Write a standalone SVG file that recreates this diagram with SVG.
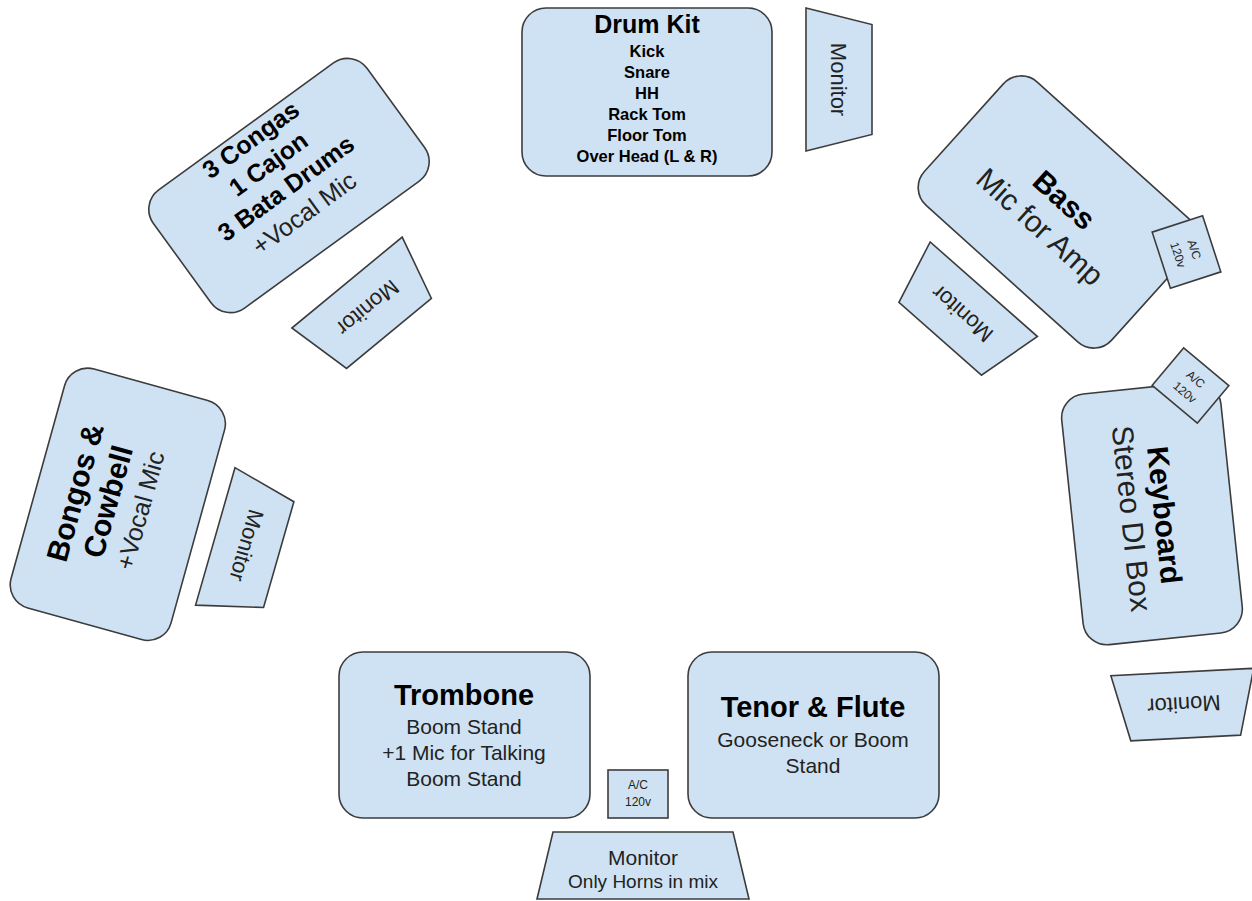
<svg xmlns="http://www.w3.org/2000/svg" width="1252" height="901" viewBox="0 0 1252 901">
<defs>
<style>
.box{fill:#cfe2f3;stroke:#3c3c3c;stroke-width:1.6}
.t{font-family:"Liberation Sans",Arial,sans-serif;text-anchor:middle;fill:#222}
.b{font-weight:bold;fill:#000}
.s16{font-size:16.5px}.s21{font-size:21px}.s22{font-size:22px}.s25{font-size:25px}.s29{font-size:29px}.s30{font-size:30px}.s12{font-size:12px}
</style>
<polygon id="mon" class="box" points="-55,-33 55,-33 71.5,33 -71.5,33"/>
</defs>
<rect width="1252" height="901" fill="#ffffff"/>
<g id="connectors"/>

<g id="drumkit">
<rect class="box" x="522" y="8" width="250" height="168" rx="24"/>
<text class="t b" x="647" y="33" font-size="25">Drum Kit</text>
<text class="t b s16" x="647" y="57">Kick</text>
<text class="t b s16" x="647" y="78">Snare</text>
<text class="t b s16" x="647" y="99">HH</text>
<text class="t b s16" x="647" y="120">Rack Tom</text>
<text class="t b s16" x="647" y="141">Floor Tom</text>
<text class="t b s16" x="647" y="162">Over Head (L &amp; R)</text>
</g>

<g id="monitor-drums" transform="translate(839,79.5) rotate(90)">
<use href="#mon"/>
<text class="t s22" x="0" y="8">Monitor</text>
</g>

<g id="congas" transform="translate(289,185.5) rotate(-36)">
<rect class="box" x="-132" y="-73" width="264" height="146" rx="24"/>
<text class="t b s25" x="-4" y="-51">3 Congas</text>
<text class="t b s25" x="-4" y="-21">1 Cajon</text>
<text class="t b s25" x="-4" y="9">3 Bata Drums</text>
<text class="t s25" x="-4" y="40">+Vocal Mic</text>
</g>

<g id="monitor-congas" transform="translate(368,308) rotate(140.5)">
<use href="#mon"/>
<text class="t s22" x="0" y="8">Monitor</text>
</g>

<g id="bass" transform="translate(1057.5,212) rotate(42)">
<rect class="box" x="-126" y="-83" width="252" height="166" rx="24"/>
<text class="t b s30" x="-3" y="-3">Bass</text>
<text class="t s30" x="-3" y="33">Mic for Amp</text>
</g>

<g id="ac-bass" transform="translate(1186.5,252) rotate(72)">
<rect class="box" x="-29.5" y="-26.5" width="59" height="53"/>
<text class="t s12" x="0" y="-4">A/C</text>
<text class="t s12" x="0" y="13">120v</text>
</g>

<g id="monitor-bass" transform="translate(962,314) rotate(221.4)">
<use href="#mon"/>
<text class="t s22" x="0" y="8">Monitor</text>
</g>

<g id="keyboard" transform="translate(1152,513.5) rotate(84)">
<rect class="box" x="-126" y="-80" width="252" height="160" rx="24"/>
<text class="t b s30" x="3" y="-2">Keyboard</text>
<text class="t s30" x="3" y="31">Stereo DI Box</text>
</g>

<g id="ac-keyboard" transform="translate(1190.5,385.5) rotate(40)">
<rect class="box" x="-29.5" y="-24.5" width="59" height="49"/>
<text class="t s12" x="0" y="-4">A/C</text>
<text class="t s12" x="0" y="13">120v</text>
</g>

<g id="monitor-keyboard" transform="translate(1184,705) rotate(177)">
<use href="#mon"/>
<text class="t s22" x="0" y="8">Monitor</text>
</g>

<g id="bongos" transform="translate(117.8,504.3) rotate(-74.5)">
<rect class="box" x="-124" y="-83" width="248" height="166" rx="24"/>
<text class="t b s30" x="0" y="-34">Bongos &amp;</text>
<text class="t b s30" x="0" y="0">Cowbell</text>
<text class="t s25" x="0" y="32">+Vocal Mic</text>
</g>

<g id="monitor-bongos" transform="translate(247,545.5) rotate(106)">
<use href="#mon"/>
<text class="t s22" x="0" y="8">Monitor</text>
</g>

<g id="trombone">
<rect class="box" x="339" y="652" width="251" height="166" rx="24"/>
<text class="t b s29" x="464" y="705">Trombone</text>
<text class="t s21" x="464" y="734">Boom Stand</text>
<text class="t s21" x="464" y="760">+1 Mic for Talking</text>
<text class="t s21" x="464" y="786">Boom Stand</text>
</g>

<g id="tenor">
<rect class="box" x="688" y="652" width="251" height="166" rx="24"/>
<text class="t b s29" x="813" y="717">Tenor &amp; Flute</text>
<text class="t s21" x="813" y="747">Gooseneck or Boom</text>
<text class="t s21" x="813" y="773">Stand</text>
</g>

<g id="ac-horns">
<rect class="box" x="608" y="770" width="60" height="48"/>
<text class="t s12" x="638" y="789">A/C</text>
<text class="t s12" x="638" y="806">120v</text>
</g>

<g id="monitor-horns">
<polygon class="box" points="553,832 733,832 749,899 537,899"/>
<text class="t s21" x="643" y="865">Monitor</text>
<text class="t" font-size="19" x="643" y="888">Only Horns in mix</text>
</g>
</svg>
